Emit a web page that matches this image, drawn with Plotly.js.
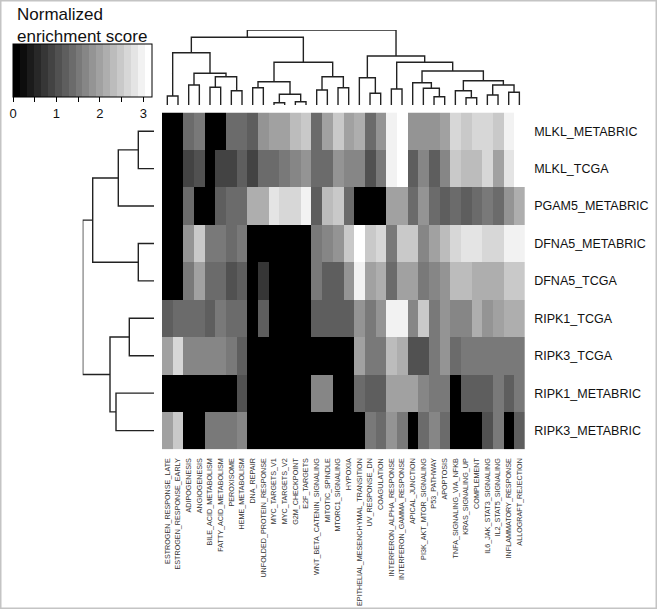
<!DOCTYPE html>
<html><head><meta charset="utf-8">
<script src="https://cdn.plot.ly/plotly-3.0.1.min.js"></script>
<style>html,body{margin:0;padding:0;background:#fff}</style>
</head><body><div id="chart" style="width:657px;height:609px"></div>
<script>
// ---------- data ----------
const geneSets = ["ESTROGEN_RESPONSE_LATE","ESTROGEN_RESPONSE_EARLY","ADIPOGENESIS","ANGIOGENESIS","BILE_ACID_METABOLISM","FATTY_ACID_METABOLISM","PEROXISOME","HEME_METABOLISM","DNA_REPAIR","UNFOLDED_PROTEIN_RESPONSE","MYC_TARGETS_V1","MYC_TARGETS_V2","G2M_CHECKPOINT","E2F_TARGETS","WNT_BETA_CATENIN_SIGNALING","MITOTIC_SPINDLE","MTORC1_SIGNALING","HYPOXIA","EPITHELIAL_MESENCHYMAL_TRANSITION","UV_RESPONSE_DN","COAGULATION","INTERFERON_ALPHA_RESPONSE","INTERFERON_GAMMA_RESPONSE","APICAL_JUNCTION","PI3K_AKT_MTOR_SIGNALING","P53_PATHWAY","APOPTOSIS","TNFA_SIGNALING_VIA_NFKB","KRAS_SIGNALING_UP","COMPLEMENT","IL6_JAK_STAT3_SIGNALING","IL2_STAT5_SIGNALING","INFLAMMATORY_RESPONSE","ALLOGRAFT_REJECTION"];
const signatures = ["MLKL_METABRIC","MLKL_TCGA","PGAM5_METABRIC","DFNA5_METABRIC","DFNA5_TCGA","RIPK1_TCGA","RIPK3_TCGA","RIPK1_METABRIC","RIPK3_METABRIC"];

const nes_MLKL_METABRIC  = [0,0,1.44,1.51,0,0,1.32,1.38,1.25,1.82,1.95,2.07,2.38,2.51,1.38,2.07,2.45,2.07,2.20,1.32,1.88,2.99,3.20,1.88,1.88,1.88,2.07,2.64,2.51,2.66,2.66,2.45,2.95,3.16];
const nes_MLKL_TCGA      = [0,0,0.88,1.10,0,0.94,0.94,1.25,0.88,1.38,1.38,1.51,1.76,1.82,1.32,1.36,1.86,1.63,1.73,1.07,1.57,3.01,3.20,1.25,1.66,1.23,1.63,2.51,2.32,2.32,2.70,2.07,2.82,3.16];
const nes_PGAM5_METABRIC = [0,0,1.38,0,0,1.28,1.44,1.32,2.20,2.20,2.76,2.57,2.70,2.89,1.25,2.32,2.45,1.44,0,0,0,2.01,2.01,1.34,1.82,1.34,1.25,1.41,1.13,1.34,1.51,1.38,1.82,2.13];
const nes_DFNA5_METABRIC = [0,0,1.86,2.45,1.51,1.57,1.44,1.53,0,0,0,0,0,0,1.57,1.66,1.88,2.51,3.16,2.48,2.70,1.57,2.51,2.51,1.69,2.07,2.32,2.64,2.82,2.82,2.66,2.64,2.95,2.95];
const nes_DFNA5_TCGA     = [0,0,1.51,2.01,1.32,1.32,1.00,1.28,0,0.75,0,0,0,0,1.57,1.28,1.28,1.88,2.99,2.03,2.20,1.38,2.05,2.01,1.57,1.60,1.88,2.32,2.32,2.23,2.13,2.16,2.45,2.48];
const nes_RIPK1_TCGA     = [1.25,1.32,1.38,1.32,1.25,1.47,1.44,1.44,0,1.15,0,0,0,0,1.19,1.19,1.19,1.15,1.88,1.59,1.91,2.95,3.01,1.73,2.47,1.53,1.82,1.69,1.69,2.16,1.88,2.03,2.13,2.13];
const nes_RIPK3_TCGA     = [2.07,2.66,1.76,1.69,1.63,1.69,1.51,1.28,0,0,0,0,0,0,0,0,0,0,2.03,1.57,1.57,2.28,2.10,1.07,1.07,1.59,1.82,1.41,1.47,1.57,1.51,1.53,1.53,1.53];
const nes_RIPK1_METABRIC = [0,0,0,0,0,0,0,1.07,0,0,0,0,0,0,1.66,1.66,0,0,1.34,1.22,1.22,2.03,2.03,2.03,1.72,1.47,1.47,0,1.13,1.22,1.22,1.53,1.22,1.53];
const nes_RIPK3_METABRIC = [2.03,2.53,0,0,1.51,1.51,1.51,1.76,0,0,0,0,0,0,0,0,0,0,0,1.59,1.34,1.82,1.47,0,1.32,1.76,1.41,0,0,0,1.07,1.57,0,1.19];

const colorbarTickVals = [0,0.5,1,1.5,2,2.5,3];
const colorbarTickText = ["0","","1","","2","","3"];

// dendrograms (hclust-style merges: negative = leaf, positive = earlier merge)
const colMergeA = [-1,-3,-5,-7,3,2,1,-9,-11,-13,9,8,-15,-17,13,12,7,-20,-19,-22,-26,-25,-24,-29,-28,-31,-33,26,25,23,20,19,17];
const colMergeB = [-2,-4,-6,-8,4,5,6,-10,-12,-14,10,11,-16,-18,14,15,16,-21,18,-23,-27,21,22,-30,24,-32,-34,27,28,29,30,31,32];
const colMergeH = [9,20,17.7,14.3,28.3,31.7,52.3,17.3,2.3,3.3,10.7,23.3,15,17.3,28.3,42.7,67.7,11.7,27.3,16,8.3,16.7,22.3,7.3,14.3,10,12.7,20,24.3,34,42.7,49,75];
const rowMergeA = [-1,1,-4,2,-6,-8,5,4];
const rowMergeB = [-2,-3,-5,3,-7,-9,6,7];
const rowMergeH = [15.7,35.7,15.7,61.3,24.7,38,44,71.3];

// ---------- build ----------
const W = 657, H = 609;
const z = [nes_MLKL_METABRIC,nes_MLKL_TCGA,nes_PGAM5_METABRIC,nes_DFNA5_METABRIC,nes_DFNA5_TCGA,nes_RIPK1_TCGA,nes_RIPK3_TCGA,nes_RIPK1_METABRIC,nes_RIPK3_METABRIC];

function dendroSegments(A,B,Hh){
  const pos=[], ht=[]; const P=[], Q=[];
  for(let i=0;i<A.length;i++){
    const get = k => k<0 ? [-k-1,0] : [pos[k-1],ht[k-1]];
    const [pa,ha]=get(A[i]), [pb,hb]=get(B[i]);
    P.push(pa,pa,pb,pb,null); Q.push(ha,Hh[i],Hh[i],hb,null);
    pos.push((pa+pb)/2); ht.push(Hh[i]);
  }
  return [P,Q];
}
const [cp,ch] = dendroSegments(colMergeA,colMergeB,colMergeH);
const [rp,rh] = dendroSegments(rowMergeA,rowMergeB,rowMergeH);

const N=20, cs=[];
for(let i=0;i<N;i++){const g=Math.round(i/(N-1)*255);const c=`rgb(${g},${g},${g})`;cs.push([i/N,c]);cs.push([(i+1)/N,c]);}

const FONT="Liberation Sans, Arial, sans-serif";
const hx=[162/W,524.7/W], hy=[1-449.3/H,1-112.5/H];
const idxC=geneSets.map((_,i)=>i), idxR=signatures.map((_,i)=>i);

const traces=[
 {type:'heatmap', z:z, x:idxC, y:idxR, zmin:0, zmax:3.2, colorscale:cs, xaxis:'x', yaxis:'y',
  colorbar:{orientation:'h', x:13/W, xanchor:'left', y:1-44/H, yanchor:'top', len:139, lenmode:'pixels',
    thickness:53, xpad:0, ypad:0, outlinewidth:1, outlinecolor:'#000', ticks:'outside', ticklen:5, tickcolor:'#000',
    tickvals:colorbarTickVals, ticktext:colorbarTickText, tickfont:{family:FONT,size:13,color:'#111'}}},
 {type:'scatter', mode:'lines', x:cp, y:ch, xaxis:'x2', yaxis:'y2', line:{color:'#222',width:1.4}, hoverinfo:'skip', showlegend:false},
 {type:'scatter', mode:'lines', x:rh, y:rp, xaxis:'x3', yaxis:'y3', line:{color:'#222',width:1.4}, hoverinfo:'skip', showlegend:false}
];

const hid={visible:false, showgrid:false, zeroline:false, fixedrange:true};
const layout={
 width:W, height:H, margin:{l:0,r:0,t:0,b:0}, paper_bgcolor:'#fff', plot_bgcolor:'#fff', showlegend:false,
 font:{family:FONT,color:'#111'},
 xaxis:{domain:hx, range:[-0.5,33.5], tickvals:idxC, ticktext:geneSets, tickangle:-90, tickfont:{size:7.2,color:'#333',family:FONT},
   ticks:'outside', ticklen:5, tickcolor:'rgba(0,0,0,0)', showgrid:false, zeroline:false, showline:false, automargin:false},
 yaxis:{domain:hy, range:[8.5,-0.5], tickvals:idxR, ticktext:signatures, side:'right', tickfont:{size:12.5,color:'#111',family:FONT},
   ticks:'outside', ticklen:6, tickcolor:'rgba(0,0,0,0)', showgrid:false, zeroline:false, showline:false, automargin:false},
 xaxis2:Object.assign({anchor:'y2', domain:hx, range:[-0.5,33.5]},hid),
 yaxis2:Object.assign({anchor:'x2', domain:[1-105/H,1-30/H], range:[0,75]},hid),
 xaxis3:Object.assign({anchor:'y3', domain:[82.7/W,154/W], range:[71.3,0]},hid),
 yaxis3:Object.assign({anchor:'x3', domain:hy, range:[8.5,-0.5]},hid),
 annotations:[{text:'Normalized<br>enrichment score', xref:'paper', yref:'paper', x:15/W, y:1-3/H, xanchor:'left', yanchor:'top',
   align:'left', showarrow:false, font:{family:FONT,size:17,color:'#111'}}],
 shapes:[{type:'rect', xref:'paper', yref:'paper', x0:0, x1:1, y0:0, y1:1, line:{color:'#c4c4c4',width:3}, fillcolor:'rgba(0,0,0,0)'}]
};
Plotly.newPlot('chart',traces,layout,{displayModeBar:false,staticPlot:true});
</script></body></html>
